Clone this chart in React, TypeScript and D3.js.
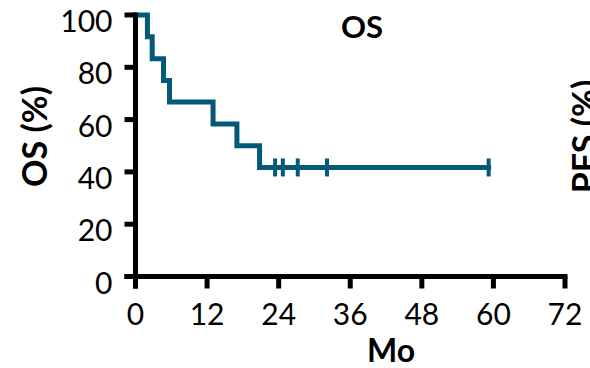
import React from 'react';
import { scaleLinear, line, curveStepAfter } from 'd3';

// Kaplan-Meier steps (months, % surviving)
const stepMonths = [0, 2.0, 2.8, 4.7, 5.7, 13.0, 17.0, 20.8];
const survivalPct = [100, 91.7, 83.3, 75, 66.7, 58.3, 50, 41.7];
// censored patients, all on the last plateau
const censorMonths = [23.4, 24.7, 27.2, 32.1, 59.2];

const xTicks = [0, 12, 24, 36, 48, 60, 72];
const yTicks = [0, 20, 40, 60, 80, 100];

const W = 590;
const H = 368;
const FONT = 'Lato, "Open Sans", sans-serif';
const CURVE = '#035a77';

const App: React.FC = () => {
  const x = scaleLinear().domain([0, 72]).range([135.5, 565]);
  const y = scaleLinear().domain([0, 100]).range([276.5, 15]);

  const lastPct = survivalPct[survivalPct.length - 1];
  const endMonth = censorMonths[censorMonths.length - 1];
  const pts: [number, number][] = stepMonths.map((m, i) => [m, survivalPct[i]]);
  pts.push([endMonth, lastPct]);

  const path = line<[number, number]>()
    .x(d => x(d[0]))
    .y(d => y(d[1]))
    .curve(curveStepAfter)(pts) || '';

  return (
    <svg width={W} height={H} style={{ display: 'block', position: 'absolute', left: 0, top: 0 }}>
      <rect width={W} height={H} fill="#fff" />

      {/* curve */}
      <path d={path} fill="none" stroke={CURVE} strokeWidth={5} strokeLinejoin="miter" strokeLinecap="square" />
      {censorMonths.map(m => (
        <line key={m} x1={x(m)} x2={x(m)} y1={y(lastPct) - 9} y2={y(lastPct) + 9} stroke={CURVE} strokeWidth={4} />
      ))}

      {/* y axis */}
      <line x1={x(0)} x2={x(0)} y1={y(100) - 2.5} y2={y(0) + 12} stroke="#000" strokeWidth={5} />
      {yTicks.map(t => (
        <g key={t}>
          <line x1={x(0) - 11} x2={x(0)} y1={y(t)} y2={y(t)} stroke="#000" strokeWidth={5} />
          <text x={x(0) - 23} y={y(t) + 17} textAnchor="end" fontFamily={FONT} fontSize={30}>{t}</text>
        </g>
      ))}

      {/* x axis */}
      <line x1={x(0) - 11} x2={x(72) + 2.5} y1={y(0)} y2={y(0)} stroke="#000" strokeWidth={5} />
      {xTicks.map(t => (
        <g key={t}>
          <line x1={x(t)} x2={x(t)} y1={y(0)} y2={y(0) + 12} stroke="#000" strokeWidth={5} />
          <text x={x(t)} y={y(0) + 48} textAnchor="middle" fontFamily={FONT} fontSize={30}>{t}</text>
        </g>
      ))}

      <text x={362} y={38} textAnchor="middle" fontFamily={FONT} fontSize={31} fontWeight="bold">OS</text>
      <text x={391} y={362} textAnchor="middle" fontFamily={FONT} fontSize={32} fontWeight="bold">Mo</text>
      <text transform="translate(47,136.5) rotate(-90)" textAnchor="middle" fontFamily={FONT} fontSize={34} fontWeight="bold">OS (%)</text>
      <text transform="translate(597,136.5) rotate(-90)" textAnchor="middle" fontFamily={FONT} fontSize={34} fontWeight="bold">PFS (%)</text>
    </svg>
  );
};

export default App;
